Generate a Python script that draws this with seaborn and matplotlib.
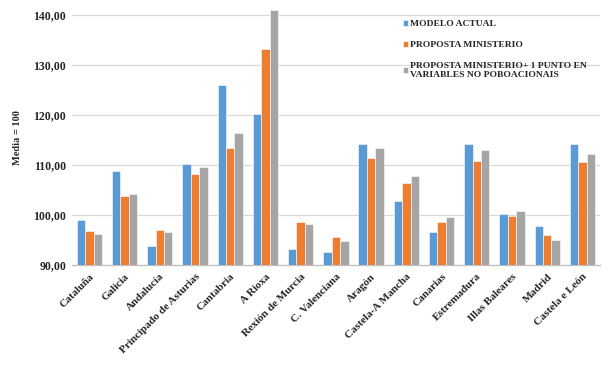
import pandas as pd
import matplotlib
matplotlib.use('Agg')
import matplotlib.pyplot as plt
import seaborn as sns

# Datos
rexions = ['Cataluña', 'Galicia', 'Andalucía', 'Principado de Asturias', 'Cantabria',
           'A Rioxa', 'Rexión de Murcia', 'C. Valenciana', 'Aragón', 'Castela-A Mancha',
           'Canarias', 'Estremadura', 'Illas Baleares', 'Madrid', 'Castela e León']
modelo_actual = [98.9, 108.7, 93.8, 110.2, 125.9, 120.1, 93.1, 92.6, 114.2, 102.8,
                 96.5, 114.1, 100.2, 97.8, 114.2]
proposta_ministerio = [96.8, 103.8, 97.0, 108.2, 113.3, 133.2, 98.5, 95.6, 111.3, 106.4,
                       98.6, 110.8, 99.8, 95.9, 110.5]
proposta_mais_1 = [96.1, 104.2, 96.5, 109.6, 116.3, 140.9, 98.1, 94.8, 113.3, 107.7,
                   99.6, 112.9, 100.8, 95.0, 112.1]
series = ['MODELO ACTUAL', 'PROPOSTA MINISTERIO',
          'PROPOSTA MINISTERIO+ 1 PUNTO EN\nVARIABLES NO POBOACIONAIS']
cores = ['#5B9BD5', '#ED7D31', '#A5A5A5']

df = pd.DataFrame({
    'rexion': rexions * 3,
    'valor': modelo_actual + proposta_ministerio + proposta_mais_1,
    'serie': [series[0]] * 15 + [series[1]] * 15 + [series[2]] * 15,
})

sns.set_style('white')
plt.rcParams['font.family'] = ['Liberation Serif', 'DejaVu Serif']

fig = plt.figure(figsize=(6.08, 3.66), dpi=100)
ax = fig.add_axes([0.118, 0.276, 0.869, 0.697])

sns.barplot(data=df, x='rexion', y='valor', hue='serie', palette=cores,
            saturation=1, width=0.72, edgecolor='white', linewidth=0.4,
            ax=ax, zorder=3)

ax.set_ylim(90, 141)
ax.set_yticks([90, 100, 110, 120, 130, 140])
ax.set_yticklabels(['90,00', '100,00', '110,00', '120,00', '130,00', '140,00'],
                   fontsize=8.5, fontweight='bold')
ax.set_xlim(-0.5, 14.5)
ax.set_xticks(range(15))
ax.set_xticklabels(rexions, rotation=45, ha='right', rotation_mode='anchor',
                   fontsize=8, fontweight='bold')
ax.tick_params(axis='x', pad=5, length=0)
ax.tick_params(axis='y', length=0, pad=4)
ax.yaxis.grid(True, color='#D9D9D9', linewidth=0.9, zorder=0)
ax.set_axisbelow(True)
for s in ['top', 'right', 'left']:
    ax.spines[s].set_visible(False)
ax.spines['bottom'].set_color('#BFBFBF')
ax.spines['bottom'].set_linewidth(0.9)

ax.set_xlabel('')
ax.set_ylabel('Media = 100', fontsize=7.5, fontweight='bold', labelpad=8)

handles, labels = ax.get_legend_handles_labels()
leg = ax.legend(handles, labels, loc='upper left', bbox_to_anchor=(0.62, 0.975),
                frameon=False, fontsize=6.8, handlelength=0.55, handleheight=0.55,
                handletextpad=0.2, labelspacing=1.35, borderaxespad=0)
for t in leg.get_texts():
    t.set_fontweight('bold')

fig.savefig('out.png', dpi=100)
